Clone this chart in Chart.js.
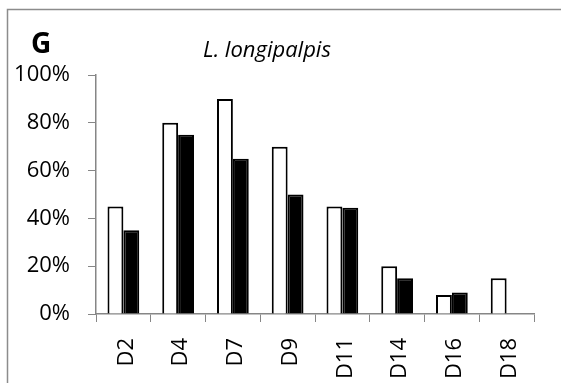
<!DOCTYPE html>
<html>
<head>
<meta charset="utf-8">
<script src="https://cdn.jsdelivr.net/npm/chart.js@4"></script>
<style>
  html, body { margin: 0; padding: 0; background: #fff; }
  #wrap { width: 561px; height: 383px; position: relative; }
</style>
</head>
<body>
<div id="wrap"><canvas id="c" width="561" height="383"></canvas></div>
<script>
const categories = ["D2", "D4", "D7", "D9", "D11", "D14", "D16", "D18"];
const seriesWhite = [45, 80, 90, 70, 45, 20, 8, 15];
const seriesBlack = [35, 75, 65, 50, 44.5, 15, 9, null];
const yTicks = [0, 20, 40, 60, 80, 100];
const panelLabel = "G";
const chartTitle = "L. longipalpis";

const AXIS = "#868686";
const FONT = "'Open Sans', 'DejaVu Sans', sans-serif";

const decor = {
  id: "decor",
  beforeDraw(chart) {
    const ctx = chart.ctx;
    ctx.save();
    ctx.strokeStyle = "#8c8c8c";
    ctx.lineWidth = 1.5;
    ctx.beginPath();
    ctx.moveTo(7.5, 383);
    ctx.lineTo(7.5, 9.5);
    ctx.lineTo(561, 9.5);
    ctx.stroke();
    ctx.restore();
  },
  afterDraw(chart) {
    const ctx = chart.ctx;
    ctx.save();
    ctx.fillStyle = "#000";
    ctx.textBaseline = "alphabetic";
    ctx.textAlign = "left";
    ctx.font = "bold 28px " + FONT;
    ctx.fillText(panelLabel, 31, 53);
    ctx.font = "italic 22px " + FONT;
    ctx.textAlign = "center";
    ctx.fillText(chartTitle, 267, 57);
    ctx.restore();
  }
};

new Chart(document.getElementById("c"), {
  type: "bar",
  data: {
    labels: categories,
    datasets: [
      {
        data: seriesWhite,
        backgroundColor: "#ffffff",
        borderColor: "#000000",
        borderWidth: 2,
        categoryPercentage: 0.58,
        barPercentage: 1.0
      },
      {
        data: seriesBlack,
        backgroundColor: "#000000",
        borderColor: "#000000",
        borderWidth: 2,
        categoryPercentage: 0.58,
        barPercentage: 1.0
      }
    ]
  },
  options: {
    responsive: false,
    animation: false,
    devicePixelRatio: 1,
    layout: { padding: { left: 0, top: 75, right: 27, bottom: 0 } },
    plugins: {
      legend: { display: false },
      title: { display: false },
      tooltip: { enabled: false }
    },
    scales: {
      x: {
        afterFit(scale) { scale.height = 69; },
        grid: {
          display: true,
          drawOnChartArea: false,
          drawTicks: true,
          tickLength: 8,
          color: AXIS,
          offset: true
        },
        border: { display: true, color: AXIS, width: 1.5 },
        ticks: {
          minRotation: 90,
          maxRotation: 90,
          padding: 16,
          labelOffset: 3,
          color: "#000",
          font: { family: FONT, size: 22 }
        }
      },
      y: {
        min: 0,
        max: 100,
        afterFit(scale) { scale.width = 96; },
        afterBuildTicks(scale) { scale.ticks = yTicks.map(v => ({ value: v })); },
        grid: {
          display: true,
          drawOnChartArea: false,
          drawTicks: true,
          tickLength: 8,
          color: AXIS
        },
        border: { display: true, color: AXIS, width: 1.5 },
        ticks: {
          padding: 18,
          color: "#000",
          font: { family: FONT, size: 22 },
          callback: v => v + "%"
        }
      }
    }
  },
  plugins: [decor]
});
</script>
</body>
</html>
